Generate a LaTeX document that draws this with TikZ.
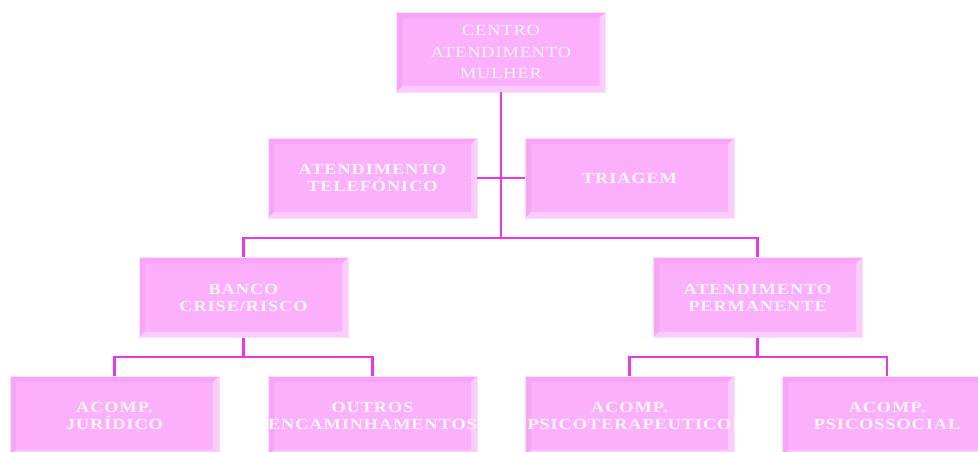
\documentclass[tikz,border=0pt]{standalone}
\usepackage{fontspec}
\usetikzlibrary{positioning}
\newfontfamily\orgfont[LetterSpace=6,FakeStretch=1.18]{Liberation Serif}
\definecolor{boxface}{RGB}{250,176,250}
\definecolor{boxdark}{RGB}{247,166,247}
\definecolor{boxlite}{RGB}{253,204,253}
\definecolor{boxedge}{RGB}{253,222,253}
\definecolor{txtpale}{RGB}{255,244,255}
\definecolor{linkmag}{RGB}{230,56,230}

\begin{document}
\begin{tikzpicture}[
      x=1pt, y=1pt,
      bx/.style={rectangle, draw=boxedge, line width=0.8pt, fill=boxface,
                 minimum width=209pt, minimum height=80pt, inner sep=0pt,
                 text=txtpale, align=center,
                 font=\orgfont\bfseries\fontsize{15.5}{17}\selectfont,
                 path picture={
                   \coordinate (sw) at (path picture bounding box.south west);
                   \coordinate (ne) at (path picture bounding box.north east);
                   \coordinate (nw) at (sw |- ne);
                   \coordinate (se) at (ne |- sw);
                   \fill[boxdark] (nw) -- (ne) -- ++(-6,-6) -- ([shift={(6,-6)}]nw) -- cycle;
                   \fill[boxdark] (nw) -- (sw) -- ++(6,6) -- ([shift={(6,-6)}]nw) -- cycle;
                   \fill[boxlite] (se) -- (ne) -- ++(-6,-6) -- ([shift={(-6,6)}]se) -- cycle;
                   \fill[boxlite] (se) -- (sw) -- ++(6,6) -- ([shift={(-6,6)}]se) -- cycle;}},
      link/.style={draw=linkmag, line width=2.2pt},
    ]
    \useasboundingbox (0,0) rectangle (978,-451);
    \clip (0,0) rectangle (978,-451);
    % levels
    \node[bx, font=\orgfont\fontsize{15.5}{21.5}\selectfont] (centro) at (501,-52) {CENTRO\\ATENDIMENTO\\MULHER};
    \node[bx] (tel)    at (372.5,-178) {ATENDIMENTO\\TELEFÓNICO};
    \node[bx] (tri)    at (629.5,-178) {TRIAGEM};
    \node[bx] (banco)  at (243.5,-297.5) {BANCO\\CRISE/RISCO};
    \node[bx] (perm)   at (757.5,-297.5) {ATENDIMENTO\\PERMANENTE};
    \node[bx] (jur)    at (114.5,-416) {ACOMP.\\JURÍDICO};
    \node[bx] (outros) at (372.5,-416) {OUTROS\\ENCAMINHAMENTOS};
    \node[bx] (psico)  at (629.5,-416) {ACOMP.\\PSICOTERAPEUTICO};
    \node[bx] (social) at (887,-416) {ACOMP.\\PSICOSSOCIAL};
    % connectors
    \coordinate (j1) at (501,-238);
    \draw[link] (centro.south) -- (j1);
    \draw[link] (tel.east) -- (tri.west);
    \draw[link] (banco.north) |- (j1) -| (perm.north);
    \draw[link] (banco.south) -- ++(0,-19) coordinate (j2);
    \draw[link] (jur.north) |- (j2) -| (outros.north);
    \draw[link] (perm.south) -- ++(0,-19) coordinate (j3);
    \draw[link] (psico.north) |- (j3) -| (social.north);
  \end{tikzpicture}
\end{document}
